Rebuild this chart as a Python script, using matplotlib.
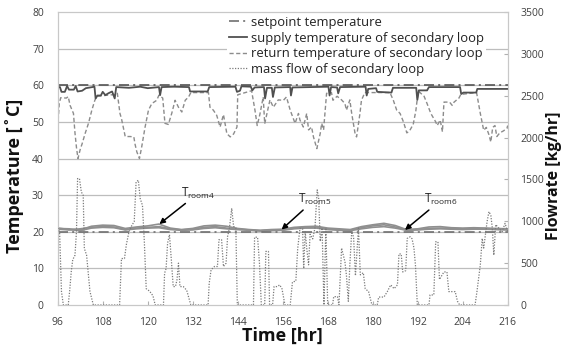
import matplotlib
matplotlib.use("Agg")
import matplotlib.pyplot as plt

# ---------------- data ----------------
setpoints = [60, 20]

sup_t = [96.0, 96.6, 97.0, 97.9, 98.5, 99.0, 100.3, 100.8, 101.3, 102.5, 103.5, 105.8, 106.1, 106.6,
         107.5, 108.0, 108.7, 109.5, 110.5, 111.2, 111.6, 115.0, 118.0, 120.0, 123.0, 123.3, 123.7,
         127.0, 131.0, 131.3, 136.0, 136.4, 143.4, 143.8, 144.6, 145.0, 147.5, 147.9, 148.5, 151.0,
         151.3, 151.8, 153.1, 153.4, 153.9, 158.0, 158.2, 158.6, 168.2, 168.5, 168.9, 170.5, 170.8,
         171.3, 178.1, 178.4, 178.8, 180.9, 181.2, 185.0, 185.4, 191.6, 191.9, 192.3, 194.5, 195.0,
         203.3, 203.6, 204.2, 207.6, 207.9, 216.0]
sup_v = [59.5, 59.5, 58.2, 58.2, 59.8, 58.8, 58.8, 59.8, 58.3, 58.5, 59.2, 59.6, 56.4, 57.2,
         57.2, 58.2, 57.3, 57.8, 58.3, 56.4, 59.5, 59.3, 59.6, 59.2, 59.5, 57.3, 59.5,
         59.6, 59.5, 58.3, 58.3, 59.5, 59.6, 58.2, 58.5, 59.7, 59.6, 58.6, 59.4, 59.5,
         56.4, 59.3, 59.3, 56.8, 59.4, 59.5, 57.2, 59.4, 59.6, 57.2, 59.5, 59.4, 57.8,
         59.5, 59.6, 57.2, 59.0, 59.2, 58.2, 58.0, 59.3, 59.3, 56.0, 58.6, 58.6, 59.5,
         59.5, 57.6, 58.0, 58.0, 59.0, 59.0]

ret_t = [96.0, 96.4, 96.8, 98.3, 98.8, 99.3, 100.2, 100.6, 101.0, 101.4, 102.0, 102.5, 103.3, 104.2,
         105.1, 105.9, 106.4, 111.5, 111.9, 112.6, 113.0, 113.6, 114.0, 115.3, 116.3, 116.6, 117.1,
         117.8, 118.4, 119.3, 120.2, 121.1, 122.4, 123.0, 124.0, 124.6, 125.5, 126.4, 127.3, 128.2,
         129.1, 130.0, 130.9, 131.5, 136.2, 136.6, 137.5, 138.4, 139.3, 140.2, 141.1, 142.0, 142.9,
         143.8, 144.0, 147.7, 148.6, 149.2, 149.9, 150.8, 151.2, 152.6, 153.5, 154.8, 156.2, 157.0,
         158.0, 159.3, 160.2, 160.6, 161.5, 162.4, 162.9, 163.7, 164.2, 165.1, 166.0, 166.4, 166.9,
         167.7, 169.0, 169.4, 170.5, 171.7, 172.6, 173.0, 173.9, 174.4, 175.3, 175.7, 176.6, 177.0,
         177.9, 184.6, 185.5, 186.4, 187.3, 188.2, 189.1, 189.8, 190.8, 191.5, 191.9, 192.3, 193.7,
         194.5, 195.5, 196.8, 197.2, 198.0, 198.6, 199.0, 200.5, 201.2, 201.7, 203.0, 203.5, 207.7,
         208.7, 209.6, 210.3, 211.0, 211.5, 212.0, 212.6, 213.1, 213.9, 214.8, 215.8, 216.0]
ret_v = [48.5, 55.0, 56.6, 56.5, 56.9, 54.5, 52.3, 47.0, 43.0, 40.0, 42.5, 44.0, 46.8, 49.6,
         53.2, 55.9, 57.0, 57.5, 57.8, 52.3, 50.9, 48.0, 46.0, 46.0, 45.9, 44.0, 41.8,
         40.0, 43.2, 48.6, 53.2, 55.0, 55.9, 57.3, 56.5, 49.6, 49.3, 52.3, 55.9, 54.0,
         52.7, 55.9, 56.8, 58.0, 58.0, 54.0, 53.2, 51.8, 48.6, 52.0, 46.8, 45.9, 46.7,
         48.6, 57.4, 58.5, 53.2, 49.0, 52.0, 56.8, 49.5, 56.0, 54.0, 56.0, 55.9, 56.8,
         53.2, 49.6, 52.3, 50.5, 48.6, 52.3, 47.8, 48.6, 45.9, 42.7, 46.8, 49.6, 47.8,
         57.8, 58.0, 55.9, 57.0, 56.0, 55.0, 53.2, 56.0, 52.3, 46.8, 45.9, 52.3, 55.9,
         58.0, 58.0, 55.9, 53.2, 52.3, 50.0, 47.0, 47.5, 49.3, 53.0, 56.4, 58.3, 57.0,
         55.0, 52.3, 50.0, 49.0, 50.5, 47.3, 55.4, 55.4, 54.5, 55.4, 56.5, 57.5, 58.0,
         52.3, 47.7, 48.5, 46.5, 44.5, 48.5, 49.0, 46.0, 47.0, 47.5, 48.2, 49.0]

flow_t = [96.0, 96.5, 97.0, 97.5, 98.8, 99.2, 99.6, 100.0, 100.6, 101.0, 101.3, 101.8, 102.3, 102.8,
          103.1, 103.7, 104.2, 104.6, 105.5, 112.5, 113.0, 113.8, 114.3, 115.0, 115.8, 116.4, 116.9,
          117.5, 118.0, 118.6, 119.1, 119.6, 120.5, 121.4, 122.0, 124.2, 124.5, 124.9, 125.3, 125.8,
          126.3, 126.8, 127.4, 127.8, 128.2, 128.6, 129.5, 130.4, 131.5, 136.1, 136.4, 136.9, 137.8,
          138.6, 139.0, 139.7, 140.2, 140.9, 141.3, 141.8, 142.4, 142.9, 143.5, 143.9, 148.2, 148.5,
          149.3, 149.8, 150.3, 151.2, 151.5, 152.2, 152.5, 153.3, 153.7, 154.5, 155.2, 155.8, 156.6,
          158.0, 158.6, 159.5, 160.0, 160.6, 161.3, 161.6, 162.0, 162.4, 162.9, 163.3, 164.0, 164.6,
          165.2, 165.6, 166.0, 166.5, 167.0, 167.5, 168.0, 169.3, 169.6, 170.6, 171.0, 171.7, 172.6,
          173.0, 173.5, 173.9, 174.4, 174.9, 175.4, 176.2, 176.7, 177.5, 178.0, 178.9, 179.8, 181.2,
          181.6, 183.0, 183.9, 184.8, 185.7, 186.6, 187.0, 187.6, 188.0, 188.8, 189.2, 190.0, 190.5,
          191.0, 191.4, 191.9, 195.0, 195.3, 196.3, 196.8, 197.4, 197.8, 199.0, 199.8, 200.3, 202.0,
          202.6, 203.2, 207.3, 207.8, 208.7, 209.2, 209.6, 210.5, 211.0, 211.5, 211.9, 212.3, 212.8,
          213.6, 214.5, 215.3, 216.0]
flow_v = [920, 875, 160, 0, 0, 175, 395, 540, 595, 875, 1510, 1510, 1350, 1310,
          675, 595, 360, 160, 0, 0, 555, 555, 720, 875, 955, 995, 1470,
          1490, 1270, 1190, 755, 195, 165, 110, 0, 0, 380, 435, 740, 840,
          540, 220, 220, 300, 500, 220, 220, 175, 0, 0, 260, 420, 460,
          460, 780, 780, 460, 500, 820, 920, 1155, 940, 920, 0, 0, 810,
          810, 500, 0, 0, 640, 640, 0, 0, 220, 220, 240, 195, 0,
          0, 275, 285, 675, 915, 915, 435, 875, 680, 480, 845, 790, 920,
          1375, 1270, 760, 920, 0, 920, 0, 0, 100, 100, 0, 680, 515,
          350, 45, 480, 875, 810, 350, 920, 360, 385, 195, 160, 0, 0,
          95, 95, 160, 240, 195, 240, 610, 610, 395, 410, 795, 815, 790,
          680, 475, 0, 0, 120, 120, 755, 755, 305, 395, 395, 160, 160,
          45, 0, 0, 160, 480, 795, 680, 995, 1115, 1070, 920, 595, 960,
          920, 875, 975, 875]

room_t = list(range(96, 217, 3))
room4 = [20.9, 20.8, 20.5, 21.5, 21.8, 21.7, 20.9, 21.3, 21.6, 22.1, 21.0, 20.6, 20.9, 21.6,
         21.8, 21.5, 20.9, 20.6, 20.4, 20.6, 20.7, 21.2, 21.4, 21.5, 21.0, 20.8, 20.6, 21.4,
         21.9, 22.3, 21.7, 20.6, 20.8, 21.3, 21.4, 21.1, 21.0, 21.1, 21.0, 20.9, 20.8]
room5 = [20.7, 20.5, 20.8, 21.2, 21.4, 21.3, 20.6, 21.0, 21.2, 21.4, 20.8, 20.5, 20.7, 21.2,
         21.4, 21.0, 20.7, 20.5, 20.3, 20.5, 20.5, 21.0, 21.2, 21.3, 20.8, 20.6, 20.4, 21.1,
         21.6, 21.9, 21.3, 20.5, 20.6, 20.9, 21.0, 20.9, 20.8, 20.8, 20.9, 20.7, 20.6]
room6 = [21.0, 20.6, 20.3, 21.0, 21.2, 21.1, 20.5, 20.8, 21.0, 21.1, 20.6, 20.4, 20.5, 20.9,
         21.1, 20.8, 20.6, 20.4, 20.2, 20.3, 20.4, 20.8, 21.0, 21.0, 20.6, 20.4, 20.3, 20.8,
         21.2, 21.4, 21.0, 20.4, 20.5, 20.7, 20.8, 20.7, 20.6, 20.7, 20.7, 20.6, 20.5]

x_ticks = list(range(96, 217, 12))
y_ticks = list(range(0, 81, 10))
y2_ticks = list(range(0, 3501, 500))
legend_labels = ["setpoint temperature", "supply temperature of secondary loop",
                 "return temperature of secondary loop", "mass flow of secondary loop"]
room_labels = ["room4", "room5", "room6"]
# annotation anchors (tip time, tip temp, text time, text temp)
ann_tip_t = [123.1, 155.7, 188.6]
ann_tip_v = [22.1, 20.6, 20.5]
ann_txt_t = [129.0, 160.0, 193.8]
ann_txt_v = [29.6, 27.8, 27.8]

# ---------------- figure ----------------
plt.rcParams['font.family'] = ['Open Sans', 'DejaVu Sans']
fig = plt.figure(figsize=(5.67, 3.46), dpi=100)
ax = fig.add_axes([0.1018, 0.1185, 0.7936, 0.8468])
ax2 = ax.twinx()

tick_col = '#404040'
grid_col = '#bdbdbd'

ax.set_xlim(96, 216)
ax.set_ylim(0, 80)
ax2.set_ylim(0, 3500)
ax.set_xticks(x_ticks)
ax.set_yticks(y_ticks)
ax2.set_yticks(y2_ticks)

for y in y_ticks[1:-1]:
    ax.axhline(y, color=grid_col, lw=0.9, zorder=0)

# room temperatures
for r in (room6, room5, room4):
    ax.plot(room_t, r, color='#8f8f8f', lw=1.2, zorder=2)

sp_style = (0, (6, 2.5, 1.2, 2.5))
h_sp = None
sp_cols = ['#555555', '#707070']
for s, c in zip(setpoints, sp_cols):
    h_sp, = ax.plot([96, 216], [s, s], color=c, lw=1.2, ls=sp_style, zorder=3)
h_sup, = ax.plot(sup_t, sup_v, color='#505050', lw=1.3, zorder=4)
h_ret, = ax.plot(ret_t, ret_v, color='#8c8c8c', lw=1.0, ls=(0, (3, 1.8)), zorder=3)
h_flow, = ax2.plot(flow_t, flow_v, color='#7a7a7a', lw=0.9, ls=(0, (1, 1.2)), zorder=3)

for sp in ('left', 'right', 'top', 'bottom'):
    ax.spines[sp].set_color('#c8c8c8')
    ax2.spines[sp].set_color('#c8c8c8')

ax.tick_params(axis='y', length=0, labelsize=7.5, labelcolor=tick_col, pad=10)
ax.tick_params(axis='x', direction='in', length=3, color='#b0b0b0', labelsize=7.5,
               labelcolor=tick_col, pad=9)
ax2.tick_params(axis='y', direction='in', length=3, color='#b0b0b0', labelsize=7.5,
                labelcolor=tick_col, pad=9)

ax.set_xlabel('Time [hr]', fontsize=13, fontweight='bold', labelpad=0, color='#111111')
ax.set_ylabel('Temperature [˚C]', fontsize=13, fontweight='bold', color='#111111')
ax2.set_ylabel('Flowrate [kg/hr]', fontsize=11.5, fontweight='bold', color='#111111')
ax.yaxis.set_label_coords(-0.076, 0.44)
ax2.yaxis.set_label_coords(1.085, 0.44)
ax.xaxis.set_label_coords(0.5, -0.075)

for lab, tt, tv, xt, xv in zip(room_labels, ann_tip_t, ann_tip_v, ann_txt_t, ann_txt_v):
    ax.annotate(r'T$_{\mathregular{' + lab + '}}$', xy=(tt, tv), xytext=(xt, xv),
                fontsize=8.5, color='#222222', zorder=6,
                arrowprops=dict(arrowstyle='-|>', color='black', lw=1.1,
                                mutation_scale=8, shrinkA=0, shrinkB=0))

leg = ax2.legend([h_sp, h_sup, h_ret, h_flow], legend_labels, loc='upper left',
                 bbox_to_anchor=(0.372, 1.0), borderaxespad=0.15, fontsize=9.4,
                 frameon=True, facecolor='white', edgecolor='none', framealpha=1,
                 handlelength=1.4, handletextpad=0.3, labelspacing=0.2, borderpad=0.15)
for t in leg.get_texts():
    t.set_color('#222222')
ax.set_zorder(1)
ax2.set_zorder(2)
ax2.patch.set_visible(False)

fig.savefig('out.png', dpi=100)
